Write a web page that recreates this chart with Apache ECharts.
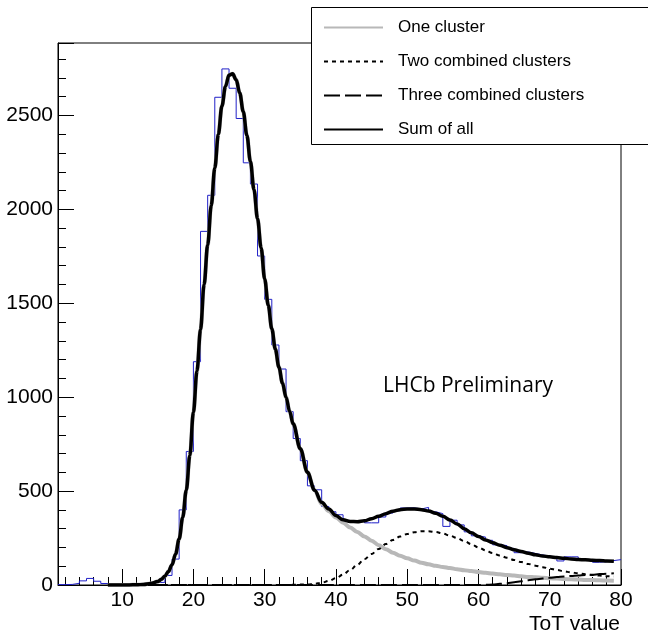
<!DOCTYPE html>
<html><head><meta charset="utf-8">
<script src="https://cdn.jsdelivr.net/npm/echarts@6/dist/echarts.min.js"></script>
<style>html,body{margin:0;padding:0;background:#fff}#c{width:648px;height:636px}</style>
</head><body><div id="c"></div>
<script>
// ---- data ----
const binStart = 1;   // low edge of first histogram bin (ToT value)
const binWidth = 1;
const counts = [
  2,3,9,22,35,20,8,3,3,3,
  3,3,12,13,14,51,138,400,711,1189,
  1883,2075,2597,2748,2645,2484,2248,2135,1752,1521,
  1278,1150,923,780,662,528,507,418,390,374,
  338,340,345,331,331,362,383,396,410,411,
  405,413,390,380,312,345,320,283,262,255,
  238,214,210,195,172,176,168,160,154,147,
  128,150,150,137,132,121,124,130,135
];
const curveX = [
  8,9,10,11,12,13,14,15,
  15.5,16,16.5,17,17.5,18,18.5,19,19.5,20,20.5,21,21.5,22,22.5,23,23.5,24,24.5,25,25.5,26,26.5,27,27.5,28,28.5,29,29.5,30,30.5,31,31.5,32,32.5,33,33.5,34,
  35,36,37,38,39,40,41,42,43,44,45,46,47,48,49,50,51,52,53,54,55,56,57,58,59,60,61,62,63,64,65,66,67,68,69,70,71,72,73,74,75,76,77,78,79
];
const sumAll = [
  0,0,0,0.5,1,3,8,18,
  30,47,72,108,165,245,360,505,690,920,1140,1360,1600,1810,2020,2220,2400,2550,2655,2715,2722,2690,2620,2520,2395,2255,2105,1950,1795,1630,1490,1365,1255,1160,1075,1000,925,858,
  725,600,505,440,405,370,347,338,337,342,353,366,380,393,401,405,405,401,394,382,366,346,325,300,278,258,240,225,212,199,188,178,169,161,155,150,146,142,139,136,134,132,130,128,126
];
const oneCluster = [
  0,0,0,0.5,1,3,8,18,
  30,47,72,108,165,245,360,505,690,920,1140,1360,1600,1810,2020,2220,2400,2550,2655,2715,2722,2690,2620,2520,2395,2255,2105,1950,1795,1630,1490,1365,1255,1160,1075,1000,925,858,
  725,600,505,432,393,360,332,306,282,258,236,212,191,172,156,142,130,119,110,102,96,90,84,79,74,69,65,61,57,53,50,46,43,41,39,36,34,32,30,29,27,26,25,24,23
];
const twoClusters = [
  0,0,0,0,0,0,0,0,
  0,0,0,0,0,0,0,0,0,0,0,0,0,0,0,0,0,0,0,0,0,0,0,0,0,0,0,0,0,0,0,0,0,0,0,0,0,1,
  2,3,6,12,22,36,55,80,108,138,165,192,218,240,258,272,281,286,286,282,274,263,250,234,217,200,184,170,157,145,133,122,112,103,95,87,80,73,67,62,57,53,50,47,45
];
const threeClusters = [
  0,0,0,0,0,0,0,0,
  0,0,0,0,0,0,0,0,0,0,0,0,0,0,0,0,0,0,0,0,0,0,0,0,0,0,0,0,0,0,0,0,0,0,0,0,0,0,
  0,0,0,0,0,0,0,0,0,0,0,0,0,0,0,0,0,0,0,0,0,0,0,0,0,0,1,3,6,10,15,20,25,30,34,38,42,45,48,51,53,55,58,60,62
];
const xTickLabels = [10,20,30,40,50,60,70,80];
const yTickLabels = [0,500,1000,1500,2000,2500];
const seriesNames = ['One cluster','Two combined clusters','Three combined clusters','Sum of all'];

// ---- build ----
const histData = counts.map((c,i)=>[binStart+i*binWidth, c]);
histData.push([binStart+counts.length*binWidth, counts[counts.length-1]]);
const pairs = ys => curveX.map((x,i)=>[x, ys[i]]);

const FONT = '"Liberation Sans", Arial, Helvetica, sans-serif';
const chart = echarts.init(document.getElementById('c'), null, {renderer:'canvas'});
const curve = (name, ys, color, width, type, z) => ({
  name, type:'line', data:pairs(ys), symbol:'none', showSymbol:false,
  smooth:0.35, smoothMonotone:'x', z,
  lineStyle:{color, width, type}, itemStyle:{color}, emphasis:{disabled:true}
});
chart.setOption({
  animation:false,
  backgroundColor:'#fff',
  grid:{left:58,right:27,top:43,bottom:51,show:true,borderColor:'#000',borderWidth:1,backgroundColor:'transparent'},
  xAxis:{type:'value',min:1,max:80,splitNumber:8,
    axisLine:{show:true,onZero:false,lineStyle:{color:'#000',width:1}},
    axisTick:{show:true,inside:true,length:16,lineStyle:{color:'#000',width:1}},
    minorTick:{show:true,splitNumber:5,length:8,lineStyle:{color:'#000',width:1}},
    splitLine:{show:false},minorSplitLine:{show:false},
    axisLabel:{showMinLabel:false,margin:5,color:'#000',fontSize:21,fontFamily:FONT,
      formatter:v=>xTickLabels.includes(v)?String(v):''}},
  yAxis:{type:'value',min:0,max:2886,interval:500,
    axisLine:{show:true,onZero:false,lineStyle:{color:'#000',width:1}},
    axisTick:{show:true,inside:true,length:16,lineStyle:{color:'#000',width:1}},
    minorTick:{show:true,splitNumber:5,length:8,lineStyle:{color:'#000',width:1}},
    splitLine:{show:false},minorSplitLine:{show:false},
    axisLabel:{showMaxLabel:false,margin:5,color:'#000',fontSize:21,fontFamily:FONT,
      formatter:v=>yTickLabels.includes(v)?String(v):''}},
  legend:{data:seriesNames,orient:'vertical',left:323,top:19,itemWidth:59,itemHeight:14,itemGap:17,
    padding:0,z:20,selectedMode:false,
    itemStyle:{color:'rgba(0,0,0,0)',borderWidth:0,opacity:0},
    textStyle:{fontSize:17,lineHeight:17,color:'#000',fontFamily:FONT,padding:[0,0,0,10]}},
  graphic:[
    {type:'rect',z:10,shape:{x:311.5,y:7.5,width:345,height:137},style:{fill:'#fff',stroke:'#000',lineWidth:1}},
    {type:'text',z:20,style:{x:620,y:624,text:'ToT value',textAlign:'right',textVerticalAlign:'middle',
      font:'21px "Liberation Sans", Arial, sans-serif',fill:'#000'}},
    {type:'text',z:20,style:{x:383,y:386,text:'LHCb Preliminary',textAlign:'left',textVerticalAlign:'middle',
      font:'21px "Open Sans", sans-serif',fill:'#000'}}
  ],
  series:[
    {name:'hist',type:'line',step:'end',data:histData,symbol:'none',z:1,
      lineStyle:{color:'#2020c8',width:1},emphasis:{disabled:true}},
    curve(seriesNames[0], oneCluster, '#b8b8b8', 4, 'solid', 2),
    curve(seriesNames[1], twoClusters, '#000', 2, [4,4], 3),
    curve(seriesNames[2], threeClusters, '#000', 2, [16,5], 3),
    curve(seriesNames[3], sumAll, '#000', 3.5, 'solid', 4)
  ]
});
</script></body></html>
